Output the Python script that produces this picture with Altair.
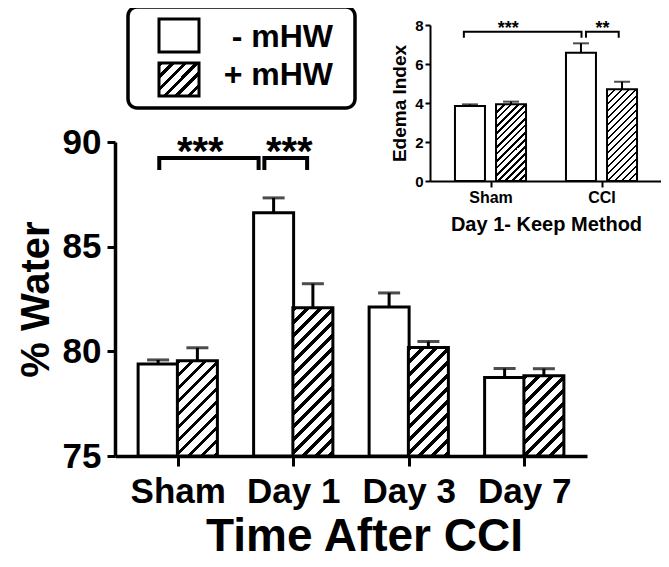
import json
import altair as alt
import pandas as pd

# ---------------- data ----------------
groups = ["Sham", "Day 1", "Day 3", "Day 7"]
series = ["- mHW", "+ mHW"]
minus_mean = [79.40, 86.62, 82.12, 78.75]
minus_sem = [0.19, 0.71, 0.67, 0.43]
plus_mean = [79.55, 82.08, 80.18, 78.83]
plus_sem = [0.62, 1.15, 0.29, 0.34]

main_bracket_x1 = [-0.16, 0.75]
main_bracket_x2 = [0.70, 1.12]
main_bracket_y = [89.24, 89.24]
main_bracket_tip = [88.76, 88.76]
main_star_text = ["***", "***"]
main_star_x = [0.195, 0.966]

inset_groups = ["Sham", "CCI"]
inset_minus_mean = [3.85, 6.58]
inset_minus_sem = [0.08, 0.48]
inset_plus_mean = [3.93, 4.70]
inset_plus_sem = [0.14, 0.39]
inset_bracket_x1 = [-0.24, 0.86]
inset_bracket_x2 = [0.82, 1.155]
inset_bracket_y = [7.66, 7.66]
inset_bracket_tip = [7.40, 7.40]
inset_star_text = ["***", "**"]
inset_star_x = [0.16, 1.01]

# ---------------- layout / style ----------------
FONT = "Liberation Sans"
W, H = 472, 314
Y0, Y1 = 75, 90
MAIN_OFF, MAIN_BAR = 0.17, 40
INS_XR = [315, 547]
INS_YR = [39, -117]
INS_OFF, INS_BAR = 0.185, 30


def hatch(w, h, period, black):
    L = w + h
    S = w + h * h / w
    k = L / S
    stops = [{"offset": 0, "color": "white"}]
    p = 0.0
    while p < L:
        a = round(p / L, 5)
        b = round(min((p + black) / L, 1.0), 5)
        stops += [{"offset": a, "color": "white"}, {"offset": a, "color": "black"},
                  {"offset": b, "color": "black"}, {"offset": b, "color": "white"}]
        p += period
    stops.append({"offset": 1, "color": "white"})
    return {"gradient": "linear", "x1": 0, "y1": 0, "x2": round(k, 5),
            "y2": round(k * h / w, 5), "stops": stops}


def bar_table(names, means, sems, off, side):
    return pd.DataFrame({
        "group": names,
        "pos": [i + side * off for i in range(len(names))],
        "mean": means,
        "top": [m + s for m, s in zip(means, sems)],
    })


def bracket_table(x1s, x2s, ys, tips):
    rows = []
    for b, (a, c, y, t) in enumerate(zip(x1s, x2s, ys, tips)):
        for o, (xx, yy) in enumerate([(a, t), (a, y), (c, y), (c, t)]):
            rows.append({"b": b, "o": o, "bx": xx, "by": yy})
    return pd.DataFrame(rows)


def panel(names, mmean, msem, pmean, psem, bx1, bx2, by, btip, stext, sx,
          xscale, yscale, xaxis, yaxis, off, barw, base, px_per_unit,
          sw, cap, per, blk, bracket_w, star_size, star_dy):
    X = lambda f: alt.X(f, type="quantitative", scale=xscale, axis=xaxis)
    Y = lambda f: alt.Y(f, type="quantitative", scale=yscale, axis=yaxis)
    dm = bar_table(names, mmean, msem, off, -1)
    dp = bar_table(names, pmean, psem, off, +1)
    layers = []
    layers.append(alt.Chart(dm).mark_bar(size=barw, fill="white", stroke="black", strokeWidth=sw)
                  .encode(x=X("pos"), y=Y("mean"), y2=alt.Y2(datum=base)))
    for i in range(len(names)):
        h = (pmean[i] - base) * px_per_unit
        layers.append(alt.Chart(dp.iloc[[i]]).mark_bar(
            size=barw, fill=hatch(barw, h, per, blk), stroke="black", strokeWidth=sw)
            .encode(x=X("pos"), y=Y("mean"), y2=alt.Y2(datum=base)))
    for d in (dm, dp):
        layers.append(alt.Chart(d).mark_rule(color="black", strokeWidth=sw)
                      .encode(x=X("pos"), y=Y("mean"), y2=alt.Y2("top")))
        layers.append(alt.Chart(d).mark_tick(orient="horizontal", size=cap, thickness=sw, color="black")
                      .encode(x=X("pos"), y=Y("top")))
    bt = bracket_table(bx1, bx2, by, btip)
    layers.append(alt.Chart(bt).mark_line(color="black", strokeWidth=bracket_w, strokeJoin="miter", strokeCap="square")
                  .encode(x=X("bx"), y=Y("by"), detail="b:N", order="o:Q"))
    st = pd.DataFrame({"label": stext, "sx": sx, "sy": by})
    layers.append(alt.Chart(st).mark_text(font=FONT, fontWeight="bold", fontSize=star_size,
                                          baseline="alphabetic", align="center", dy=star_dy, color="black")
                  .encode(x=X("sx"), y=Y("sy"), text="label:N"))
    return layers


axis_common = dict(grid=False, domainColor="black", tickColor="black", labelColor="black",
                   titleColor="black", labelFont=FONT, titleFont=FONT, labelFontWeight="bold",
                   titleFontWeight="bold", labelFlush=False, labelOverlap=False)

main_x = alt.Scale(domain=[-0.5, len(groups) - 0.5], nice=False, zero=False)
main_y = alt.Scale(domain=[Y0, Y1], nice=False, zero=False)
main_xaxis = alt.Axis(orient="bottom", values=list(range(len(groups))),
                      labelExpr=f"{json.dumps(groups)}[datum.value]", labelAngle=0,
                      tickSize=10, tickWidth=3, domainWidth=3.5, labelFontSize=35, labelPadding=8,
                      title="Time After CCI", titleFontSize=46, titleX=249, titleY=94,
                      titleAlign="center", titleBaseline="alphabetic", **axis_common)
main_yaxis = alt.Axis(orient="left", values=[75, 80, 85, 90], format="d",
                      tickSize=8, tickWidth=3, domainWidth=3.5, labelFontSize=35, labelPadding=6,
                      title="% Water", titleFontSize=40, titleAngle=270, titleX=-67, titleY=H / 2,
                      titleAlign="center", titleBaseline="alphabetic", **axis_common)

ins_x = alt.Scale(domain=[-0.5, len(inset_groups) - 0.5], range=INS_XR, nice=False, zero=False)
ins_y = alt.Scale(domain=[0, 8], range=INS_YR, nice=False, zero=False)
ins_xaxis = alt.Axis(orient="bottom", offset=INS_YR[0] - H, values=list(range(len(inset_groups))),
                     labelExpr=f"{json.dumps(inset_groups)}[datum.value]", labelAngle=0,
                     tickSize=6, tickWidth=2, domainWidth=2, labelFontSize=16, labelPadding=2,
                     title="Day 1- Keep Method", titleFontSize=20, titleX=(INS_XR[0] + INS_XR[1]) / 2,
                     titleY=49, titleAlign="center", titleBaseline="alphabetic", **axis_common)
ins_yaxis = alt.Axis(orient="left", offset=-INS_XR[0], values=[0, 2, 4, 6, 8],
                     tickSize=5, tickWidth=2, domainWidth=2, labelFontSize=15, labelPadding=2,
                     title="Edema Index", titleFontSize=19, titleAngle=270, titleX=-25,
                     titleY=(INS_YR[0] + INS_YR[1]) / 2, titleAlign="center",
                     titleBaseline="alphabetic", **axis_common)

main_layers = panel(groups, minus_mean, minus_sem, plus_mean, plus_sem,
                    main_bracket_x1, main_bracket_x2, main_bracket_y, main_bracket_tip,
                    main_star_text, main_star_x, main_x, main_y, main_xaxis, main_yaxis,
                    MAIN_OFF, MAIN_BAR, Y0, H / (Y1 - Y0), 3, 22, 13, 4.5, 4, 40, 7)

# legend (decoration, pixel-placed)
one = pd.DataFrame({"label": series})
legend_layers = [
    alt.Chart(one.iloc[[0]]).mark_rect(cornerRadius=9, fill="white", fillOpacity=0, stroke="black", strokeWidth=3.5)
    .encode(x=alt.value(13), x2=alt.value(240), y=alt.value(-135), y2=alt.value(-34)),
    alt.Chart(one.iloc[[0]]).mark_rect(fill="white", stroke="black", strokeWidth=3)
    .encode(x=alt.value(44), x2=alt.value(84), y=alt.value(-123), y2=alt.value(-90)),
    alt.Chart(one.iloc[[1]]).mark_rect(fill=hatch(40, 33, 12, 4.5), stroke="black", strokeWidth=3)
    .encode(x=alt.value(44), x2=alt.value(84), y=alt.value(-79), y2=alt.value(-46)),
    alt.Chart(one.iloc[[0]]).mark_text(font=FONT, fontWeight="bold", fontSize=32, align="right",
                                       baseline="alphabetic", color="black")
    .encode(x=alt.value(218), y=alt.value(-95), text="label:N"),
    alt.Chart(one.iloc[[1]]).mark_text(font=FONT, fontWeight="bold", fontSize=32, align="right",
                                       baseline="alphabetic", color="black")
    .encode(x=alt.value(218), y=alt.value(-57), text="label:N"),
]

inset_layers = panel(inset_groups, inset_minus_mean, inset_minus_sem, inset_plus_mean, inset_plus_sem,
                     inset_bracket_x1, inset_bracket_x2, inset_bracket_y, inset_bracket_tip,
                     inset_star_text, inset_star_x, ins_x, ins_y, ins_xaxis, ins_yaxis,
                     INS_OFF, INS_BAR, 0, (INS_YR[0] - INS_YR[1]) / 8, 2, 16, 7, 2.6, 2, 18, 2)

main = alt.layer(*main_layers, *legend_layers)
inset = alt.layer(*inset_layers)

chart = (
    alt.layer(main, inset)
    .resolve_scale(x="independent", y="independent")
    .properties(width=W, height=H, autosize=alt.AutoSizeParams(type="none"),
                padding={"left": 107, "top": 134, "right": 74, "bottom": 103})
    .configure_view(stroke=None)
)

chart.save("out.html", embed_options={"renderer": "svg", "actions": False})
